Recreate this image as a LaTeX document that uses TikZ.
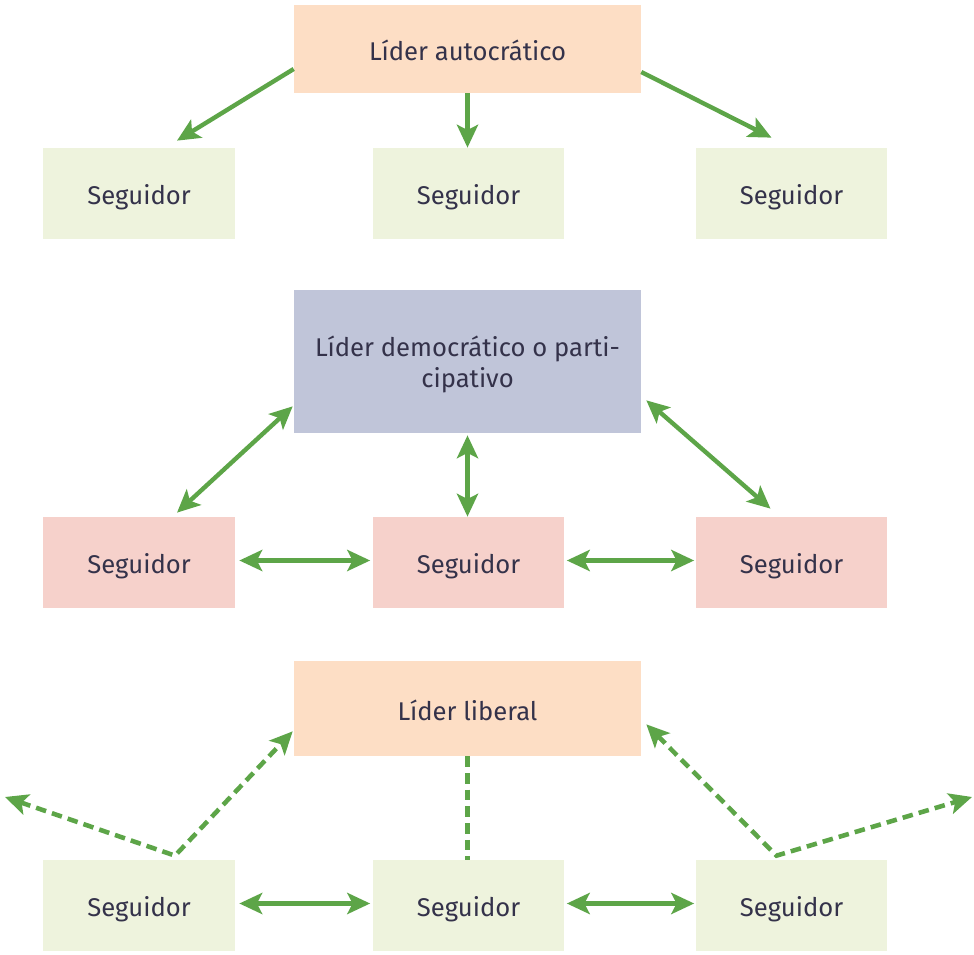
\documentclass[tikz,border=0pt]{standalone}
\usepackage{fontspec}
\setmainfont{Fira Sans}
\usepackage{xcolor}
\usepackage{tikz}
\usetikzlibrary{shapes,arrows.meta,positioning,calc}

\definecolor{durazno}{HTML}{FDDEC5}
\definecolor{verdeclaro}{HTML}{EEF3DD}
\definecolor{azulgris}{HTML}{C0C5D9}
\definecolor{rosa}{HTML}{F6D1CB}
\definecolor{flecha}{HTML}{5DA548}
\definecolor{texto}{HTML}{34324A}

\begin{document}
\begin{tikzpicture}[x=0.02cm, y=-0.02cm, >={Stealth[length=13pt,width=12pt,inset=3pt]}]
  % Define styles
  \tikzstyle{lider} = [rectangle, fill=durazno, minimum width=6.94cm, inner sep=0pt, text height=16.5pt, text depth=3pt, text=texto, font=\fontsize{14.6}{17.6}\selectfont]
  \tikzstyle{seguidor} = [rectangle, fill=verdeclaro, minimum width=3.84cm, minimum height=1.82cm, inner sep=0pt, text height=16pt, text depth=3pt, text=texto, font=\fontsize{14.6}{17.6}\selectfont]
  \tikzstyle{arrow} = [line width=2.5pt, draw=flecha, ->]
  \tikzstyle{both} = [line width=2.5pt, draw=flecha, <->]
  \tikzstyle{punteada} = [line width=2.6pt, draw=flecha, dash pattern=on 6pt off 3.5pt]

  \useasboundingbox (0,0) rectangle (974,955);

  % Autocratic leader
  \node [lider, minimum height=1.76cm] (autocrata) at (467.5,49) {Líder autocrático};
  \node [seguidor] (segA1) at (139,193.5) {Seguidor};
  \node [seguidor] (segA2) at (468.5,193.5) {Seguidor};
  \node [seguidor] (segA3) at (791.5,193.5) {Seguidor};

  \draw [arrow] ($(autocrata.west)+(0,20)$) -- ($(segA1.north)+(38,-7)$);
  \draw [arrow] (autocrata.south) -- (autocrata.south |- segA2.north);
  \draw [arrow] ($(autocrata.east)+(0,23)$) -- ($(segA3.north)+(-20,-10)$);

  % Democratic leader
  \node [lider, fill=azulgris, minimum height=2.86cm, text height=33pt, align=center] (democrata) at (467.5,361.5) {Líder democrático o parti-\\cipativo};
  \node [seguidor, fill=rosa] (segB1) at (139,562.5) {Seguidor};
  \node [seguidor, fill=rosa] (segB2) at (468.5,562.5) {Seguidor};
  \node [seguidor, fill=rosa] (segB3) at (791.5,562.5) {Seguidor};

  \draw [both] ($(democrata.south west)+(-1,-27)$) -- ($(segB1.north)+(38,-4)$);
  \draw [both] ($(democrata.south)+(0,2)$) -- (democrata.south |- segB2.north);
  \draw [both] ($(democrata.south east)+(5,-33)$) -- ($(segB3.north)+(-21,-8)$);
  \draw [both] ($(segB1.east)+(4,-2)$) -- ($(segB2.west)+(-2,-2)$);
  \draw [both] ($(segB2.east)+(2,-2)$) -- ($(segB3.west)+(-1,-2)$);

  % Liberal leader
  \node [lider, minimum height=1.9cm] (liberal) at (467.5,708.5) {Líder liberal};
  \node [seguidor] (segC1) at (139,905.5) {Seguidor};
  \node [seguidor] (segC2) at (468.5,905.5) {Seguidor};
  \node [seguidor] (segC3) at (791.5,905.5) {Seguidor};

  \coordinate (quiebre1) at ($(segC1.north)+(36,-4)$);
  \coordinate (libre1) at (5,797);
  \coordinate (quiebre3) at ($(segC3.north)+(-15,-4)$);
  \coordinate (libre3) at (972,797);

  \draw [punteada, <->] (libre1) -- (quiebre1) -- ($(liberal.south west)+(-1,-25)$);
  \draw [punteada] (liberal.south) -- (liberal.south |- segC2.north);
  \draw [punteada, <->] ($(liberal.south east)+(5,-32)$) -- (quiebre3) -- (libre3);
  \draw [both] ($(segC1.east)+(4,-2)$) -- ($(segC2.west)+(-2,-2)$);
  \draw [both] ($(segC2.east)+(2,-2)$) -- ($(segC3.west)+(-1,-2)$);
\end{tikzpicture}
\end{document}
